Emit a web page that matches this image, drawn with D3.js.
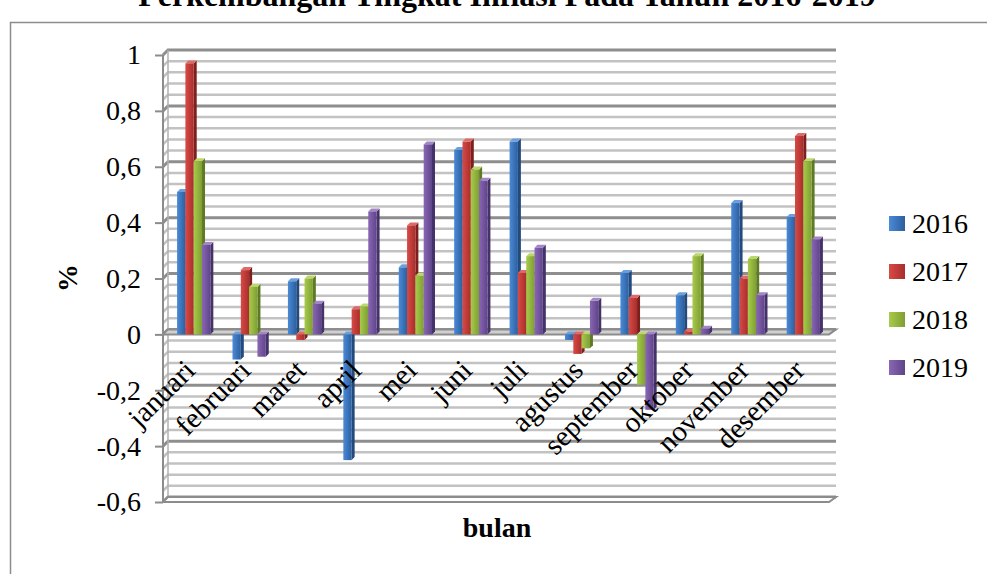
<!DOCTYPE html>
<html>
<head>
<meta charset="utf-8">
<script src="https://cdn.jsdelivr.net/npm/d3@7/dist/d3.min.js"></script>
<style>
  html, body { margin: 0; padding: 0; background: #ffffff; }
  svg { display: block; }
  svg text { font-family: "Liberation Serif", "Times New Roman", serif; fill: #000; }
</style>
</head>
<body>
<svg id="chart" width="987" height="574"></svg>
<script>
// Monthly inflation (%) per year
const months = ["januari", "februari", "maret", "april", "mei", "juni",
                "juli", "agustus", "september", "oktober", "november", "desember"];
const years = ["2016", "2017", "2018", "2019"];
const inflasi2016 = [0.51, -0.09, 0.19, -0.45, 0.24, 0.66, 0.69, -0.02, 0.22, 0.14, 0.47, 0.42];
const inflasi2017 = [0.97, 0.23, -0.02, 0.09, 0.39, 0.69, 0.22, -0.07, 0.13, 0.01, 0.20, 0.71];
const inflasi2018 = [0.62, 0.17, 0.20, 0.10, 0.21, 0.59, 0.28, -0.05, -0.18, 0.28, 0.27, 0.62];
const inflasi2019 = [0.32, -0.08, 0.11, 0.44, 0.68, 0.55, 0.31, 0.12, -0.27, 0.02, 0.14, 0.34];
const yTicks = [-0.6, -0.4, -0.2, 0, 0.2, 0.4, 0.6, 0.8, 1];

const seriesValues = [inflasi2016, inflasi2017, inflasi2018, inflasi2019];
const palette = [
  { light: "#4a8ad8", dark: "#2d5f9e", side: "#234a7c", top: "#6a9fe0" },
  { light: "#d84a46", dark: "#a82e2c", side: "#7e1f1e", top: "#e06a66" },
  { light: "#a7cb4a", dark: "#7f9e33", side: "#5f7a24", top: "#bcd86c" },
  { light: "#8a66b5", dark: "#5f4589", side: "#46326a", top: "#a386c6" }
];
const serif = "Liberation Serif, Times New Roman, serif";

const svg = d3.select("#chart");
const W = 987, H = 574;

// frame around the chart area
svg.append("rect")
  .attr("x", 10.5).attr("y", 22.5)
  .attr("width", W + 20).attr("height", H + 20)
  .attr("fill", "none").attr("stroke", "#8c8c8c").attr("stroke-width", 1.5);

// title
svg.append("text")
  .attr("x", 507).attr("y", 6)
  .attr("text-anchor", "middle")
  .attr("font-family", serif)
  .attr("font-weight", "bold").attr("font-size", 32)
  .text("Perkembangan Tingkat Inflasi Pada Tahun 2016-2019");

// scales
const y = d3.scaleLinear().domain([-0.6, 1]).range([502, 55]);
const x0 = d3.scaleBand().domain(months).range([166, 831]).paddingInner(0.4).paddingOuter(0.2);
const x1 = d3.scaleBand().domain(years).range([0, x0.bandwidth()]);

const axisX = 163;           // front plane left edge
const wallRight = 836;
const wdx = 5, wdy = -5;     // depth offset of the back wall
const bd = 3;                // depth of each column

// back wall gridlines, minor every 0.04, major every 0.2
const minorTicks = d3.range(0, 41).map(i => -0.6 + i * 0.04);
const isMajor = v => Math.abs(Math.round(v / 0.2) * 0.2 - v) < 1e-6;

const grid = svg.append("g");
minorTicks.forEach(v => {
  const yy = y(v);
  const major = isMajor(v);
  grid.append("path")
    .attr("d", `M${axisX},${yy} L${axisX + wdx},${yy + wdy} H${wallRight}`)
    .attr("fill", "none")
    .attr("stroke", major ? "#8e8e8e" : "#c2c2c2")
    .attr("stroke-width", major ? 3 : 2.5);
});

// left wall edge and axis line
svg.append("line")
  .attr("x1", axisX + wdx).attr("x2", axisX + wdx)
  .attr("y1", y(1) + wdy).attr("y2", y(-0.6) + wdy)
  .attr("stroke", "#b0b0b0").attr("stroke-width", 1.5);
svg.append("line")
  .attr("x1", axisX).attr("x2", axisX)
  .attr("y1", y(1)).attr("y2", y(-0.6))
  .attr("stroke", "#8c8c8c").attr("stroke-width", 2);

// floor slab
svg.append("path")
  .attr("d", `M${axisX},${y(-0.6)} L${axisX + wdx},${y(-0.6) + wdy} H${wallRight} L${wallRight - 7},${y(-0.6)} Z`)
  .attr("fill", "#ffffff").attr("stroke", "#8c8c8c").attr("stroke-width", 2);

// zero line
svg.append("path")
  .attr("d", `M${axisX},${y(0)} L${axisX + wdx},${y(0) + wdy} H${wallRight} L${wallRight - 7},${y(0)} Z`)
  .attr("fill", "#d0d0d0").attr("stroke", "#8c8c8c").attr("stroke-width", 2);

// y axis ticks and labels (decimal comma, plain hyphen for negatives)
const yAxis = d3.axisLeft(y).tickValues(yTicks).tickSize(8).tickPadding(14)
  .tickFormat(d => String(Math.round(d * 10) / 10).replace(".", ","));
const yg = svg.append("g").attr("transform", `translate(${axisX},0)`).call(yAxis);
yg.attr("font-family", serif).attr("font-size", 28);
yg.select(".domain").remove();
yg.selectAll(".tick line").attr("stroke", "#8c8c8c").attr("stroke-width", 2);
yg.selectAll(".tick text").attr("fill", "#000");

// gradients for column fronts
const defs = svg.append("defs");
palette.forEach((c, i) => {
  const g = defs.append("linearGradient").attr("id", "front" + i)
    .attr("x1", 0).attr("x2", 1).attr("y1", 0).attr("y2", 0);
  g.append("stop").attr("offset", "0%").attr("stop-color", c.light);
  g.append("stop").attr("offset", "100%").attr("stop-color", c.dark);
});

// 3D columns
const bars = svg.append("g");
months.forEach((m, mi) => {
  years.forEach((yr, si) => {
    const v = seriesValues[si][mi];
    const c = palette[si];
    const bx = x0(m) + x1(yr);
    const bw = x1.bandwidth();
    const top = Math.min(y(v), y(0));
    const bot = Math.max(y(v), y(0));
    const g = bars.append("g");
    // side face
    g.append("path")
      .attr("d", `M${bx + bw},${top} L${bx + bw + bd},${top - bd} L${bx + bw + bd},${bot - bd} L${bx + bw},${bot} Z`)
      .attr("fill", c.side);
    // top face
    g.append("path")
      .attr("d", `M${bx},${top} L${bx + bd},${top - bd} L${bx + bw + bd},${top - bd} L${bx + bw},${top} Z`)
      .attr("fill", c.top);
    // front face
    g.append("rect")
      .attr("x", bx).attr("y", top)
      .attr("width", bw).attr("height", Math.max(bot - top, 0.8))
      .attr("fill", `url(#front${si})`);
  });
});

// category labels, rotated
svg.append("g").selectAll("text")
  .data(months)
  .join("text")
  .attr("transform", d => `translate(${x0(d) + x0.bandwidth() / 2 + 3},${372}) rotate(-45)`)
  .attr("text-anchor", "end")
  .attr("font-family", serif)
  .attr("font-size", 29)
  .text(d => d);

// axis titles
svg.append("text")
  .attr("x", 497).attr("y", 537)
  .attr("text-anchor", "middle")
  .attr("font-family", serif)
  .attr("font-weight", "bold").attr("font-size", 28)
  .text("bulan");
svg.append("text")
  .attr("transform", "translate(77,278) rotate(-90)")
  .attr("text-anchor", "middle")
  .attr("font-family", serif)
  .attr("font-weight", "bold").attr("font-size", 28)
  .text("%");

// legend
const legend = svg.append("g");
years.forEach((yr, i) => {
  const ly = 224 + i * 48;
  legend.append("rect")
    .attr("x", 889).attr("y", ly - 8)
    .attr("width", 16).attr("height", 15)
    .attr("fill", `url(#front${i})`);
  legend.append("text")
    .attr("x", 912).attr("y", ly + 9)
    .attr("font-family", serif)
    .attr("font-size", 28)
    .text(yr);
});
</script>
</body>
</html>
